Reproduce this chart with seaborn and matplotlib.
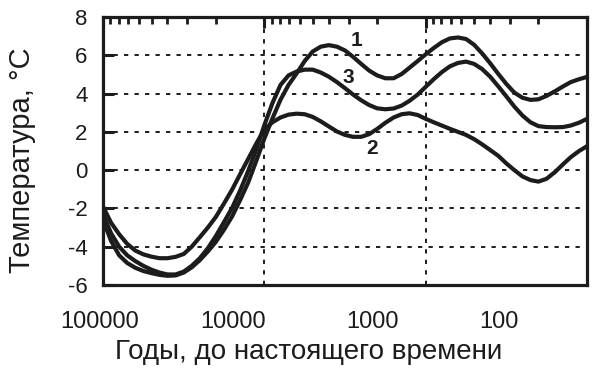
import matplotlib
matplotlib.use("Agg")
import matplotlib.pyplot as plt
import seaborn as sns
import pandas as pd
from matplotlib.ticker import LogLocator, FixedLocator, NullFormatter
from matplotlib.transforms import blended_transform_factory

# ---- data (years before present, temperature in °C) ----
years = [100000, 89100, 79400, 70800, 63100, 56200, 50100, 44700, 39800, 35500,
         31600, 28200, 25100, 22400, 20000, 17800, 15800, 14100, 12600, 11200,
         10000, 8910, 7940, 7080, 6310, 5620, 5010, 4470, 3980, 3550,
         3160, 2820, 2510, 2240, 2000, 1780, 1580, 1410, 1260, 1120,
         1000, 891, 794, 708, 631, 562, 501, 447, 398, 355,
         316, 282, 251, 224, 200, 178, 158, 141, 126, 112, 100]
curve1 = [-2.6, -3.7, -4.45, -4.85, -5.1, -5.27, -5.38, -5.47, -5.52, -5.5,
          -5.35, -5.08, -4.7, -4.25, -3.75, -3.12, -2.4, -1.55, -0.65, 0.5,
          1.65, 2.7, 3.68, 4.45, 5.05, 5.7, 6.2, 6.45, 6.53, 6.45,
          6.25, 5.92, 5.55, 5.2, 4.95, 4.8, 4.8, 5.02, 5.35, 5.7,
          6.05, 6.38, 6.68, 6.88, 6.93, 6.85, 6.55, 6.1, 5.58, 5.03,
          4.5, 4.05, 3.78, 3.67, 3.7, 3.88, 4.12, 4.37, 4.6, 4.75, 4.87]
curve2 = [-1.9, -2.75, -3.35, -3.85, -4.2, -4.4, -4.52, -4.6, -4.6, -4.53,
          -4.38, -4.0, -3.5, -3.0, -2.45, -1.75, -1.0, -0.2, 0.58, 1.4,
          2.12, 2.5, 2.75, 2.9, 2.95, 2.92, 2.78, 2.55, 2.28, 2.02,
          1.84, 1.74, 1.74, 1.88, 2.15, 2.47, 2.75, 2.92, 2.97, 2.88,
          2.68, 2.5, 2.33, 2.16, 2.0, 1.84, 1.62, 1.35, 1.05, 0.75,
          0.35, 0.0, -0.33, -0.52, -0.6, -0.45, -0.1, 0.3, 0.68, 1.0, 1.25]
curve3 = [-2.3, -3.3, -4.0, -4.45, -4.75, -5.0, -5.2, -5.35, -5.45, -5.45,
          -5.3, -5.0, -4.6, -4.08, -3.45, -2.72, -1.95, -1.05, -0.05, 1.1,
          2.35, 3.5, 4.45, 4.95, 5.15, 5.25, 5.25, 5.1, 4.88, 4.6,
          4.28, 3.95, 3.65, 3.4, 3.23, 3.18, 3.22, 3.37, 3.62, 3.95,
          4.35, 4.75, 5.12, 5.42, 5.6, 5.67, 5.55, 5.28, 4.88, 4.38,
          3.85, 3.32, 2.85, 2.5, 2.3, 2.25, 2.24, 2.25, 2.33, 2.48, 2.68]
curve_names = ["1", "2", "3"]
label_years = [2700, 2150, 3030]
label_temps = [6.75, 1.15, 4.85]
x_ticks = [100000, 10000, 1000, 100]
x_tick_labels = ["100000", "10000", "1000", "100"]
y_ticks = [-6, -4, -2, 0, 2, 4, 6, 8]
x_title = "Годы, до настоящего времени"
y_title = "Температура, °C"

sns.set_style("white")
plt.rcParams['font.family'] = ['Liberation Sans', 'DejaVu Sans']
plt.rcParams['axes.unicode_minus'] = False

df = pd.concat([
    pd.DataFrame({"year": years, "temp": vals, "curve": name})
    for name, vals in zip(curve_names, [curve1, curve2, curve3])
], ignore_index=True)

ink = "#1c1c1c"
fig = plt.figure(figsize=(5.97, 3.80), dpi=100)
ax = fig.add_axes([103 / 597, 1 - 285 / 380, 484 / 597, 268 / 380])

sns.lineplot(data=df, x="year", y="temp", hue="curve", palette=[ink] * 3,
             estimator=None, sort=False, legend=False, linewidth=3.0, ax=ax)
for ln in ax.lines:
    ln.set_solid_joinstyle("round")
    ln.set_solid_capstyle("round")

ax.set_xscale("log")
ax.set_xlim(100000, 100)
ax.set_ylim(-6, 8)
ax.set_xlabel("")
ax.set_ylabel("")

ax.xaxis.set_major_locator(FixedLocator(x_ticks))
ax.xaxis.set_minor_locator(LogLocator(base=10, subs=range(2, 10)))
ax.xaxis.set_minor_formatter(NullFormatter())
ax.set_yticks(y_ticks)

ax.tick_params(axis="x", which="both", bottom=False, top=True, labelbottom=False,
               labeltop=False, direction="in", color=ink)
ax.tick_params(axis="x", which="major", length=8, width=2.2)
ax.tick_params(axis="x", which="minor", length=5, width=2.0)
ax.tick_params(axis="y", left=True, right=False, direction="in", length=8,
               width=2.2, pad=11, labelsize=16, color=ink, labelcolor=ink)

ax.grid(True, which="major", color=ink, linestyle=(0, (2.2, 3.2)), linewidth=1.4)
ax.set_axisbelow(True)
for sp in ax.spines.values():
    sp.set_linewidth(2.3)
    sp.set_color(ink)

# x tick labels placed as in the reference
trans = blended_transform_factory(ax.transAxes, ax.transAxes)
x_label_pos = [-0.008, 0.269, 0.556, 0.818]
for pos, lab in zip(x_label_pos, x_tick_labels):
    ax.text(pos, -0.138, lab, transform=trans, ha="center", va="center",
            fontsize=17, color=ink)

for name, xv, yv in zip(curve_names, label_years, label_temps):
    ax.text(xv, yv, name, ha="center", va="center", fontsize=15,
            fontweight="bold", color=ink)

fig.text(309 / 597, 1 - 352 / 380, x_title, ha="center", va="center",
         fontsize=20, color=ink)
fig.text(22 / 597, 1 - 160 / 380, y_title, ha="center", va="center",
         rotation=90, fontsize=21, color=ink)

fig.savefig("out.png", dpi=100)
